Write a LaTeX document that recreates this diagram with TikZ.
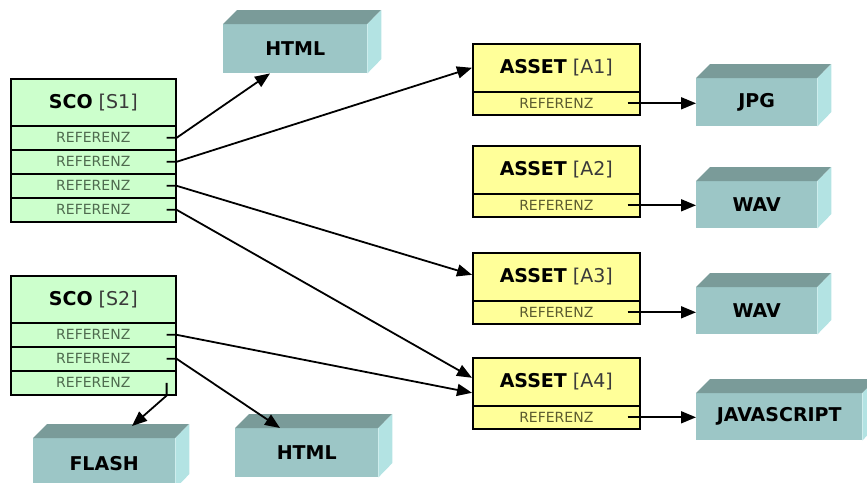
\documentclass[tikz,border=0pt]{standalone}
\usepackage{fontspec}
\setmainfont{DejaVu Sans}
\usetikzlibrary{arrows.meta}
\definecolor{scogreen}{HTML}{CCFFCC}
\definecolor{assetyellow}{HTML}{FFFF99}
\definecolor{tealfront}{HTML}{9CC6C6}
\definecolor{tealtop}{HTML}{7A9B99}
\definecolor{tealside}{HTML}{B3E3E3}
\definecolor{titlegray}{HTML}{3A3A3A}
\definecolor{refgreen}{HTML}{4F6B4F}
\definecolor{refyellow}{HTML}{5C5C30}
\tikzset{
  x=1pt, y=-1pt,
  hdrbox/.style={draw=black, line width=1.6pt, fill=#1, anchor=north west,
    inner sep=0pt, minimum height=47pt, font=\fontsize{19}{19}\selectfont},
  rowbox/.style={draw=black, line width=1.6pt, fill=#1, anchor=north west,
    inner sep=0pt, minimum height=24pt, font=\fontsize{14}{14}\selectfont},
  cubefront/.style={fill=tealfront, anchor=north west, inner sep=0pt,
    font=\bfseries\fontsize{19}{19}\selectfont},
  conn/.style={line width=1.8pt, -{Triangle[length=15pt,width=12pt]}},
}
\newcommand\cubebox[6]{%
  \node[cubefront, minimum width=#4pt, minimum height=#5pt] (#1) at (#2,#3) {#6};
  \fill[tealtop] (#1.north west) -- ++(14pt,14pt) -- ++(#4pt,0pt) -- (#1.north east) -- cycle;
  \fill[tealside] (#1.north east) -- ++(14pt,14pt) -- ++(0pt,-#5pt) -- (#1.south east) -- cycle;
}
\newcommand\scotitle[1]{{\bfseries SCO} {\color{titlegray}[#1]}}
\newcommand\assettitle[1]{{\bfseries ASSET} {\color{titlegray}[#1]}}
\begin{document}
\begin{tikzpicture}
\useasboundingbox (0,0) rectangle (867,482);

% SCO S1
\node[hdrbox=scogreen, minimum width=165pt] (s1) at (10,78) {\scotitle{S1}};
\node[rowbox=scogreen, minimum width=165pt, text=refgreen] (s1r1) at (10,125) {REFERENZ};
\node[rowbox=scogreen, minimum width=165pt, text=refgreen] (s1r2) at (10,149) {REFERENZ};
\node[rowbox=scogreen, minimum width=165pt, text=refgreen] (s1r3) at (10,173) {REFERENZ};
\node[rowbox=scogreen, minimum width=165pt, text=refgreen] (s1r4) at (10,197) {REFERENZ};

% SCO S2
\node[hdrbox=scogreen, minimum width=165pt] (s2) at (10,275) {\scotitle{S2}};
\node[rowbox=scogreen, minimum width=165pt, text=refgreen] (s2r1) at (10,322) {REFERENZ};
\node[rowbox=scogreen, minimum width=165pt, text=refgreen] (s2r2) at (10,346) {REFERENZ};
\node[rowbox=scogreen, minimum width=165pt, text=refgreen] (s2r3) at (10,370) {REFERENZ};

% ASSETs
\node[hdrbox=assetyellow, minimum width=167pt, minimum height=48pt] (a1) at (472,43) {\assettitle{A1}};
\node[rowbox=assetyellow, minimum width=167pt, minimum height=23pt, text=refyellow] (a1r) at (472,91) {REFERENZ};
\node[hdrbox=assetyellow, minimum width=167pt, minimum height=48pt] (a2) at (472,145) {\assettitle{A2}};
\node[rowbox=assetyellow, minimum width=167pt, minimum height=23pt, text=refyellow] (a2r) at (472,193) {REFERENZ};
\node[hdrbox=assetyellow, minimum width=167pt, minimum height=48pt] (a3) at (472,252) {\assettitle{A3}};
\node[rowbox=assetyellow, minimum width=167pt, minimum height=23pt, text=refyellow] (a3r) at (472,300) {REFERENZ};
\node[hdrbox=assetyellow, minimum width=167pt, minimum height=48pt] (a4) at (472,357) {\assettitle{A4}};
\node[rowbox=assetyellow, minimum width=167pt, minimum height=23pt, text=refyellow] (a4r) at (472,405) {REFERENZ};

% 3D boxes
\cubebox{html1}{223}{24}{144}{49}{HTML}
\cubebox{jpg}{696}{78}{121}{48}{JPG}
\cubebox{wav1}{696}{181}{121}{47}{WAV}
\cubebox{wav2}{696}{287}{121}{47}{WAV}
\cubebox{js}{696}{393}{166}{47}{JAVASCRIPT}
\cubebox{flash}{33}{438}{142}{50}{FLASH}
\cubebox{html2}{235}{428}{143}{49}{HTML}

% connectors from SCO S1
\draw[conn] ([xshift=-10pt]s1r1.east) -- (s1r1.east) -- ([xshift=47pt]html1.south west);
\draw[conn] ([xshift=-10pt]s1r2.east) -- (s1r2.east) -- (a1.west);
\draw[conn] ([xshift=-10pt]s1r3.east) -- (s1r3.east) -- ([yshift=2pt]a3.west);
\draw[conn] ([xshift=-10pt]s1r4.east) -- (s1r4.east) -- ([yshift=4pt]a4.west);

% connectors from SCO S2
\draw[conn] ([xshift=-10pt]s2r1.east) -- (s2r1.east) -- ([yshift=-11pt]a4.west);
\draw[conn] ([xshift=-10pt]s2r2.east) -- (s2r2.east) -- ([xshift=45pt]html2.north west);
\draw[conn] ([xshift=-10pt]s2r3.east) -- ([xshift=-10pt]s2r3.south east) -- ([xshift=99pt,yshift=12pt]flash.north west);

% connectors from ASSETs
\draw[conn] ([xshift=-13pt]a1r.east) -- (a1r.east -| jpg.west);
\draw[conn] ([xshift=-13pt]a2r.east) -- (a2r.east -| wav1.west);
\draw[conn] ([xshift=-13pt]a3r.east) -- (a3r.east -| wav2.west);
\draw[conn] ([xshift=-13pt]a4r.east) -- (a4r.east -| js.west);
\end{tikzpicture}
\end{document}
